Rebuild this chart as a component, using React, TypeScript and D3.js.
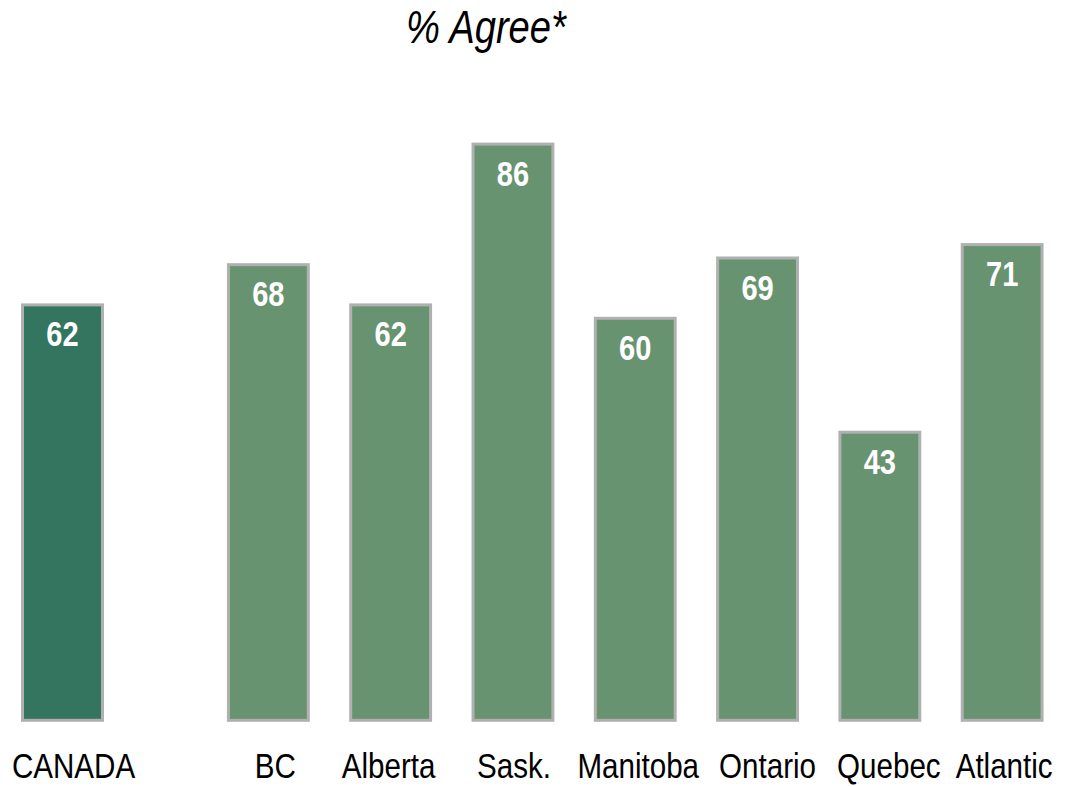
import React from "react";
import * as d3 from "d3";

const title = "% Agree*";
const nationalCategory = ["CANADA"];
const nationalValue = [62];
const provinces = ["BC", "Alberta", "Sask.", "Manitoba", "Ontario", "Quebec", "Atlantic"];
const provinceValues = [68, 62, 86, 60, 69, 43, 71];
const labelShift = [11, 7, -2, 1, 3, 10, 9, 2];

const W = 1067;
const H = 787;
const FONT = "'Liberation Sans', Arial, sans-serif";
const NARROW = 0.83;

export default function App() {
  const y = d3.scaleLinear().domain([0, 100]).range([720.3, 50.3]);
  const xNat = d3
    .scaleBand<string>()
    .domain(nationalCategory)
    .range([1.25, 1.25 + 122.5])
    .paddingInner(0.347)
    .paddingOuter(0.1735);
  const xProv = d3
    .scaleBand<string>()
    .domain(provinces)
    .range([207.2, 207.2 + 122.3 * provinces.length])
    .paddingInner(0.347)
    .paddingOuter(0.1735);

  const bars = [
    ...nationalCategory.map((c, i) => ({ c, v: nationalValue[i], x: xNat(c)!, w: xNat.bandwidth(), fill: "#347560" })),
    ...provinces.map((c, i) => ({ c, v: provinceValues[i], x: xProv(c)!, w: xProv.bandwidth(), fill: "#679370" })),
  ];

  return (
    <svg
      width={W}
      height={H}
      style={{ position: "absolute", left: 0, top: 0, background: "#fff" }}
    >
      <text
        transform={`translate(486,43) scale(${NARROW},1)`}
        textAnchor="middle"
        fontFamily={FONT}
        fontStyle="italic"
        fontSize={46}
        fill="#000"
      >
        {title}
      </text>
      {bars.map((b, i) => (
        <g key={b.c}>
          <rect
            x={b.x}
            y={y(b.v)}
            width={b.w}
            height={y(0) - y(b.v)}
            fill={b.fill}
            stroke="#b0b0b0"
            strokeWidth={3}
          />
          <text
            transform={`translate(${b.x + b.w / 2},${y(b.v) + 41.5}) scale(${NARROW},1)`}
            textAnchor="middle"
            fontFamily={FONT}
            fontWeight="bold"
            fontSize={35}
            fill="#fff"
          >
            {b.v}
          </text>
          <text
            transform={`translate(${b.x + b.w / 2 + labelShift[i]},778) scale(0.845,1)`}
            textAnchor="middle"
            fontFamily={FONT}
            fontSize={35}
            fill="#000"
          >
            {b.c}
          </text>
        </g>
      ))}
    </svg>
  );
}
